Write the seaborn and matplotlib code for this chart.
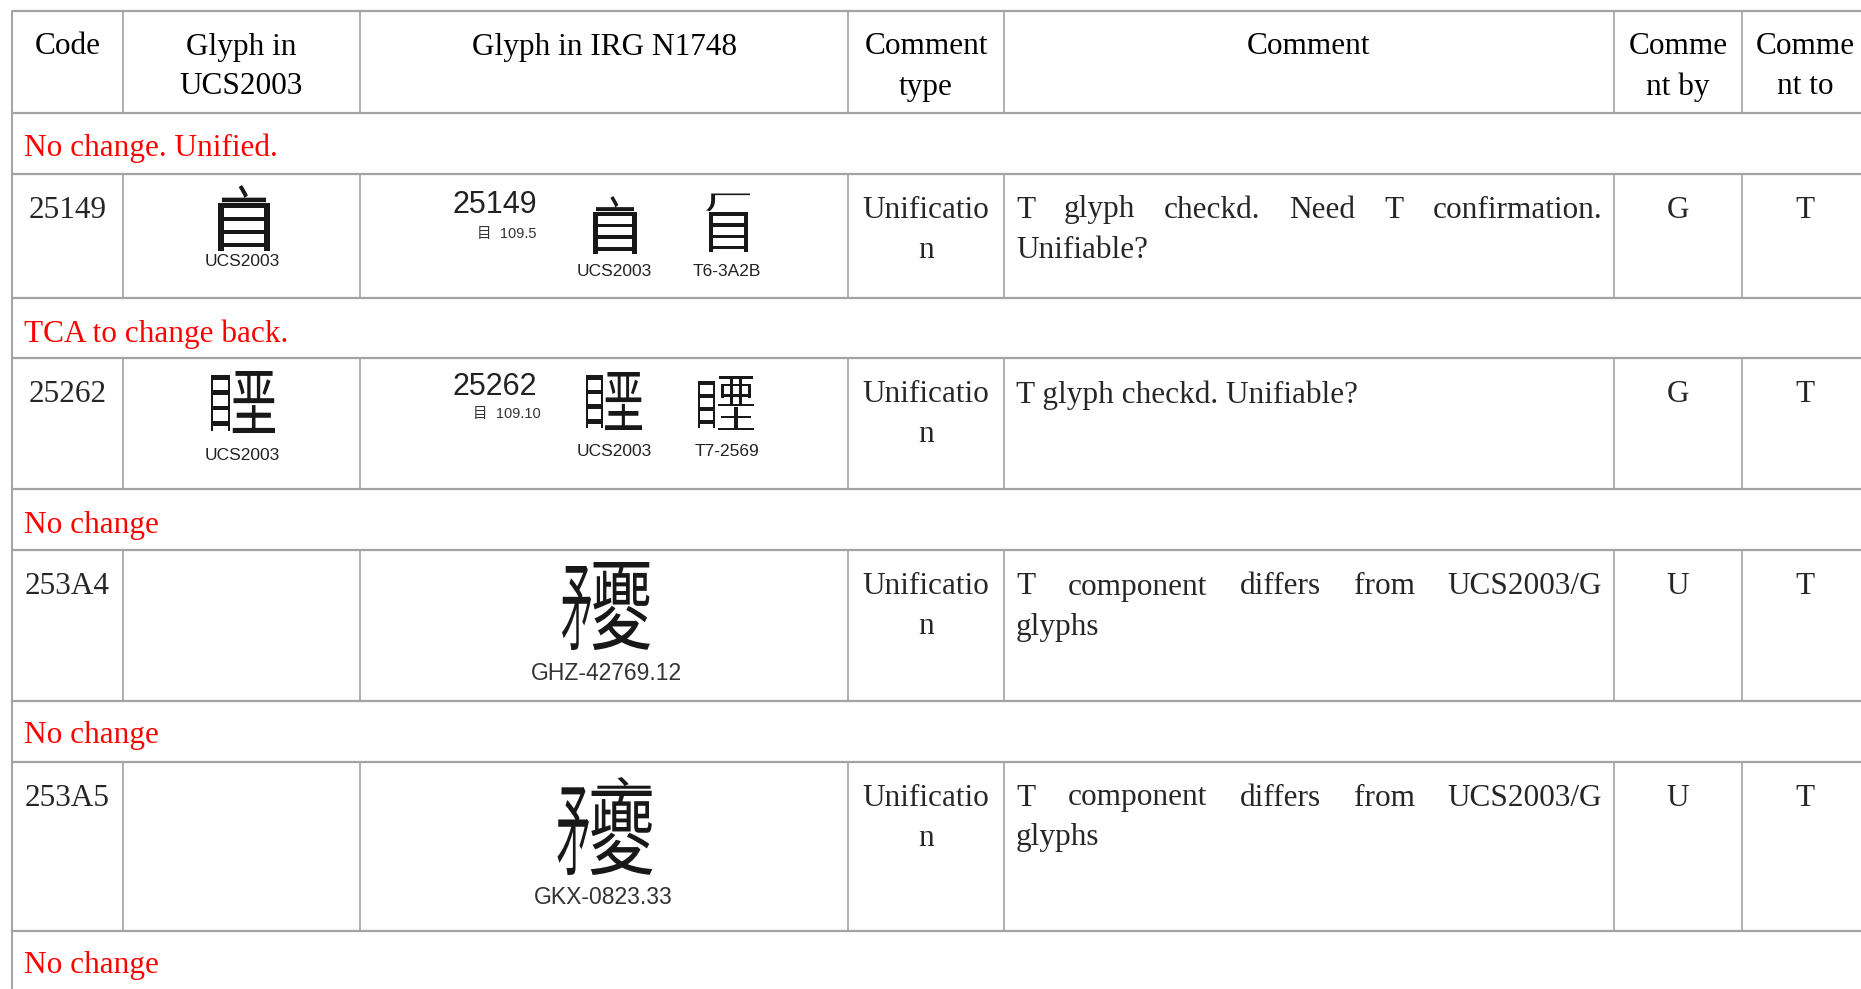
import matplotlib
matplotlib.use("Agg")
import matplotlib.pyplot as plt
import seaborn as sns
from matplotlib.textpath import TextPath
from matplotlib.font_manager import FontProperties
from matplotlib.patheffects import AbstractPathEffect
from matplotlib.transforms import Affine2D, Bbox
from matplotlib.text import Text

sns.set_theme(style="white")
plt.rcParams['font.family'] = ['Liberation Serif', 'DejaVu Serif']

# ---------------- data ----------------
headers = [["Code"], ["Glyph in", "UCS2003"], ["Glyph in IRG N1748"], ["Comment", "type"],
           ["Comment"], ["Comme", "nt by"], ["Comme", "nt to"]]
status_notes = ["No change. Unified.", "TCA to change back.", "No change", "No change", "No change"]
codes = ["25149", "25262", "253A4", "253A5"]
ucs_glyph = [True, True, False, False]
irg_radical = ["目  109.5", "目  109.10", None, None]
irg_sources = [["UCS2003", "T6-3A2B"], ["UCS2003", "T7-2569"], ["GHZ-42769.12"], ["GKX-0823.33"]]
comment_type = ["Unificatio", "n"]
comment_lines = [["T glyph checkd. Need T confirmation.", "Unifiable?"],
                 ["T glyph checkd. Unifiable?"],
                 ["T component differs from UCS2003/G", "glyphs"],
                 ["T component differs from UCS2003/G", "glyphs"]]
justified = [[True, False], [False], [True, False], [True, False]]
comment_by = ["G", "G", "U", "U"]
comment_to = ["T", "T", "T", "T"]

# The ideographs U+25149, U+25262, U+253A4, U+253A5 are not in any installed font,
# so each is built from its real component characters (ideographic description).
glyph_ids = {
    "25149_ucs": [("亠", 0.12, 0.00, 0.88, 0.26), ("目", 0.06, 0.28, 0.94, 1.00)],
    "25149_t6": [("厂", 0.06, 0.00, 0.94, 0.30), ("目", 0.12, 0.32, 0.90, 1.00)],
    "25262_ucs": [("目", 0.00, 0.06, 0.30, 0.96), ("垩", 0.34, 0.00, 1.00, 1.00)],
    "25262_t7": [("目", 0.00, 0.10, 0.30, 0.96), ("亜", 0.36, 0.00, 1.00, 0.56), ("土", 0.36, 0.58, 1.00, 1.00)],
    "253A4": [("矛", 0.00, 0.04, 0.33, 1.00), ("夒", 0.35, 0.00, 1.00, 1.00)],
    "253A5": [("矛", 0.00, 0.10, 0.33, 1.00), ("亠", 0.42, 0.00, 0.98, 0.12), ("夒", 0.35, 0.14, 1.00, 1.00)],
}

# ---------------- layout ----------------
W, H = 1861, 989
fig = plt.figure(figsize=(W / 100, H / 100), dpi=100)
ax = fig.add_axes([0, 0, 1, 1])
ax.set_xlim(0, W)
ax.set_ylim(H, 0)
ax.axis('off')

col_x = [12, 123, 360, 848, 1004, 1614, 1742, 1870]
col_c = [(col_x[i] + col_x[i + 1]) / 2 for i in range(7)]
col_c[6] = 1805
h_lines = [11, 113, 174, 298, 358, 489, 550, 701, 762, 931]
note_y = [148, 334, 526, 736, 966]
data_top = [174, 358, 550, 762]
data_bot = [298, 489, 701, 931]
first_line_y = [210, 395, 587, 798]

LC = '#a3a3a3'
for y in h_lines:
    ax.plot([12, W], [y, y], color=LC, lw=1.6, solid_capstyle='butt')
ax.plot([12, 12], [11, H], color=LC, lw=1.4)
for xv in col_x[1:7]:
    ax.plot([xv, xv], [11, 113], color=LC, lw=1.2)
    for t, b in zip(data_top, data_bot):
        ax.plot([xv, xv], [t, b], color=LC, lw=1.2)

FS = 22.5
serif = ['Liberation Serif', 'DejaVu Serif']
narrow = ['Liberation Sans Narrow', 'Liberation Sans', 'DejaVu Sans']
sans = ['Liberation Sans', 'DejaVu Sans']
cjk = ['Noto Sans CJK SC', 'Noto Sans CJK TC', 'Noto Sans CJK JP', 'DejaVu Sans']
CJK_FP = FontProperties(family='Noto Sans CJK SC')

for i, lines in enumerate(headers):
    for j, s in enumerate(lines):
        ax.text(col_c[i], 47 + j * 40, s, ha='center', va='center', fontsize=FS, family=serif, color='black')

for y, s in zip(note_y, status_notes):
    ax.text(24, y, s, ha='left', va='center', fontsize=FS, family=serif, color='#ff0000')

renderer = fig.canvas.get_renderer()


def justify(x0, x1, y, line):
    words = line.split(' ')
    arts = [ax.text(0, y, w, ha='left', va='center', fontsize=FS, family=serif) for w in words]
    widths = [a.get_window_extent(renderer).width for a in arts]
    gap = (x1 - x0 - sum(widths)) / max(len(words) - 1, 1)
    x = x0
    for a, w in zip(arts, widths):
        a.set_x(x)
        x += w + gap


for r in range(4):
    y0 = first_line_y[r]
    ax.text(col_c[0], y0, codes[r], ha='center', va='center', fontsize=FS, family=serif)
    for j, s in enumerate(comment_type):
        ax.text(col_c[3], y0 + j * 40, s, ha='center', va='center', fontsize=FS, family=serif)
    for j, s in enumerate(comment_lines[r]):
        if justified[r][j]:
            justify(1016, 1602, y0 + j * 40, s)
        else:
            ax.text(1016, y0 + j * 40, s, ha='left', va='center', fontsize=FS, family=serif)
    ax.text(col_c[5], y0, comment_by[r], ha='center', va='center', fontsize=FS, family=serif)
    ax.text(col_c[6], y0, comment_to[r], ha='center', va='center', fontsize=FS, family=serif)


class Squeeze(AbstractPathEffect):
    """Scale the drawn glyph horizontally about an anchor (display coords)."""
    def __init__(self, sx, cx):
        super().__init__()
        self.sx, self.cx = sx, cx

    def draw_path(self, renderer, gc, tpath, affine, rgbFace=None):
        aff = affine + Affine2D().translate(-self.cx, 0).scale(self.sx, 1).translate(self.cx, 0)
        renderer.draw_path(gc, tpath, aff, rgbFace)


class GlyphPart(Text):
    """A component character whose reported extent is the box its ink fills."""
    def __init__(self, x, y, s, ink_box, **kw):
        super().__init__(x, y, s, **kw)
        self._ink_box = ink_box

    def get_window_extent(self, renderer=None, dpi=None):
        x0, y0, x1, y1 = self._ink_box
        p = self.axes.transData.transform([(x0, y0), (x1, y1)])
        return Bbox.from_extents(min(p[0][0], p[1][0]), min(p[0][1], p[1][1]),
                                 max(p[0][0], p[1][0]), max(p[0][1], p[1][1]))


def component(ch, x0, y0, x1, y1, color='#181818'):
    ext = TextPath((0, 0), ch, size=1, prop=CJK_FP).get_extents()
    fpx = (y1 - y0) / ext.height
    sx = (x1 - x0) / (ext.width * fpx)
    x_pos = x0 - ext.x0 * fpx * sx
    y_base = y0 + ext.y1 * fpx
    cx = ax.transData.transform((x_pos, y_base))[0]
    t = GlyphPart(x_pos, y_base, ch, (x0, y0, x1, y1), ha='left', va='baseline',
                  fontsize=fpx * 72 / 100, family=cjk, color=color,
                  path_effects=[Squeeze(sx, cx)], transform=ax.transData)
    ax.add_artist(t)


def ideograph(key, cx, cy, w, h):
    left, top = cx - w / 2, cy - h / 2
    for ch, a, b, c, d in glyph_ids[key]:
        component(ch, left + a * w, top + b * h, left + c * w, top + d * h)


ideograph("25149_ucs", 244, 218, 58, 66)
ideograph("25262_ucs", 243, 402, 64, 62)
ideograph("25149_ucs", 615, 225, 50, 58)
ideograph("25149_t6", 728, 223, 50, 59)
ideograph("25262_ucs", 614, 401, 56, 58)
ideograph("25262_t7", 726, 403, 56, 54)
ideograph("253A4", 606, 606, 88, 88)
ideograph("253A5", 605, 826, 95, 98)

ucs_label_y = [262, 456]
irg_num_y = [205, 387]
irg_rad_y = [234, 414]
irg_lab_x = [614, 727]
irg_lab_y = [271, 452]
for r in range(2):
    ax.text(242, ucs_label_y[r], "UCS2003", ha='center', va='center', fontsize=12.5, family=narrow, color='#222222')
    ax.text(495, irg_num_y[r], codes[r], ha='center', va='center', fontsize=22, family=sans, color='#222222')
    ax.text(507, irg_rad_y[r], irg_radical[r], ha='center', va='center', fontsize=10.5,
            family=narrow + ['Noto Sans CJK SC'], color='#333333')
    for gx, lab in zip(irg_lab_x, irg_sources[r]):
        ax.text(gx, irg_lab_y[r], lab, ha='center', va='center', fontsize=12.5, family=narrow, color='#222222')

big_lab = [(606, 673), (603, 897)]
for k, r in enumerate([2, 3]):
    gx, ly = big_lab[k]
    ax.text(gx, ly, irg_sources[r][0], ha='center', va='center', fontsize=16.5, family=narrow, color='#333333')

fig.savefig("out.png", dpi=100)
